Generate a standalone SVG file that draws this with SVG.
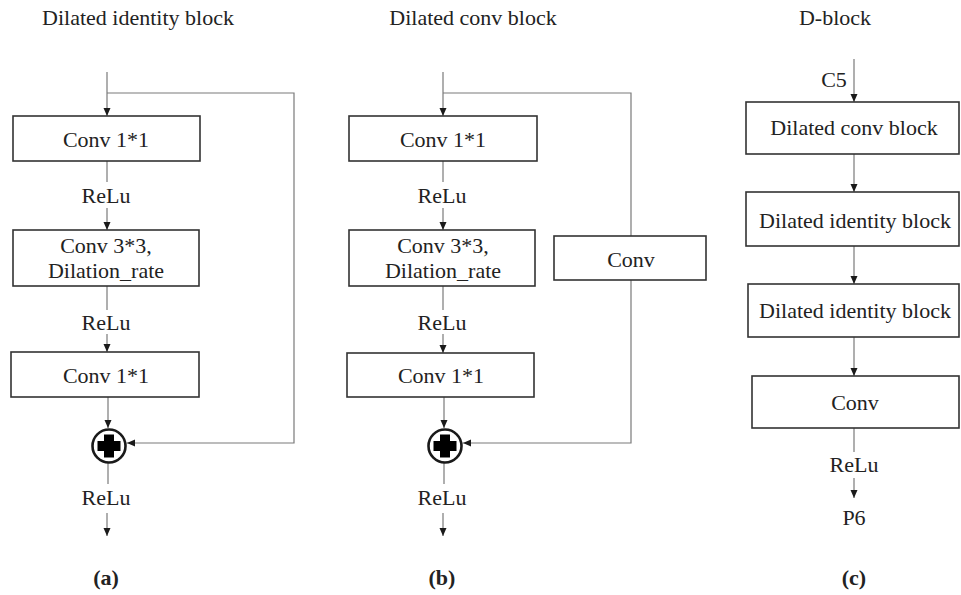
<svg xmlns="http://www.w3.org/2000/svg" width="961" height="595" viewBox="0 0 961 595">
  <defs>
    <marker id="arrow" viewBox="0 0 8 8" refX="8" refY="4" markerWidth="8" markerHeight="8" markerUnits="userSpaceOnUse" orient="auto">
      <path d="M0,0.5 L8,4 L0,7.5 Z" fill="#1a1a1a"/>
    </marker>
    <g id="adder">
      <circle r="16.5" fill="#ffffff" stroke="#1a1a1a" stroke-width="2.6"/>
      <path d="M-5,-11.5 h10 v6.5 h6.5 v10 h-6.5 v6.5 h-10 v-6.5 h-6.5 v-10 h6.5 Z" fill="#000000"/>
    </g>
  </defs>
  <style>
    text { font-family: "Liberation Serif", "Times New Roman", serif; font-size: 22px; fill: #222222; text-anchor: middle; }
    .title { font-size: 22px; }
    .cap { font-weight: bold; }
    .box { fill: #ffffff; stroke: #333333; stroke-width: 1.6; }
    .wire { fill: none; stroke: #7a7a7a; stroke-width: 1.2; }
    .arr { marker-end: url(#arrow); }
  </style>
  <rect width="961" height="595" fill="#ffffff"/>

  <!-- panel titles and captions -->
  <text class="title" x="138" y="25">Dilated identity block</text>
  <text class="title" x="473" y="25">Dilated conv block</text>
  <text class="title" x="835" y="25">D-block</text>
  <text class="cap" x="106" y="585">(a)</text>
  <text class="cap" x="442" y="585">(b)</text>
  <text class="cap" x="854" y="585">(c)</text>

  <!-- connectors -->
  <g id="connectors">
    <!-- (a) dilated identity block -->
    <path class="wire arr" d="M107,72 V116"/>
    <path class="wire arr" d="M107,93 H294 V443 H127"/>
    <path class="wire" d="M107,161 V182"/>
    <path class="wire arr" d="M107,208 V230"/>
    <path class="wire" d="M107,286 V310"/>
    <path class="wire arr" d="M107,334 V352"/>
    <path class="wire arr" d="M108,397 V428"/>
    <path class="wire" d="M108,463 V484"/>
    <path class="wire arr" d="M107,513 V536"/>

    <!-- (b) dilated conv block -->
    <path class="wire arr" d="M443,72 V116"/>
    <path class="wire" d="M443,93 H631 V236"/>
    <path class="wire arr" d="M631,280 V443 H463"/>
    <path class="wire" d="M443,161 V182"/>
    <path class="wire arr" d="M443,208 V230"/>
    <path class="wire" d="M443,286 V310"/>
    <path class="wire arr" d="M443,334 V353"/>
    <path class="wire arr" d="M444,397 V428"/>
    <path class="wire" d="M444,463 V484"/>
    <path class="wire arr" d="M443,513 V536"/>

    <!-- (c) D-block -->
    <path class="wire arr" d="M854,59 V102"/>
    <path class="wire arr" d="M854,154 V192"/>
    <path class="wire arr" d="M854,246 V284"/>
    <path class="wire arr" d="M854,337 V376"/>
    <path class="wire" d="M854,428 V452"/>
    <path class="wire arr" d="M854,478 V498"/>
  </g>

  <!-- inline labels -->
  <text x="106" y="203">ReLu</text>
  <text x="106" y="330">ReLu</text>
  <text x="106" y="505">ReLu</text>
  <text x="442" y="203">ReLu</text>
  <text x="442" y="330">ReLu</text>
  <text x="442" y="505">ReLu</text>
  <text x="834" y="87">C5</text>
  <text x="854" y="472">ReLu</text>
  <text x="854" y="525">P6</text>

  <!-- (a) nodes -->
  <g id="a-conv1">
    <rect class="box" x="13" y="116" width="187" height="45"/>
    <text x="106" y="147">Conv 1*1</text>
  </g>
  <g id="a-conv3">
    <rect class="box" x="13" y="230" width="186" height="56"/>
    <text x="106" y="253">Conv 3*3,</text>
    <text x="106" y="278">Dilation_rate</text>
  </g>
  <g id="a-conv1b">
    <rect class="box" x="11" y="352" width="188" height="45"/>
    <text x="106" y="383">Conv 1*1</text>
  </g>
  <g id="a-add">
    <use href="#adder" x="109" y="446"/>
  </g>

  <!-- (b) nodes -->
  <g id="b-conv1">
    <rect class="box" x="349" y="116" width="188" height="45"/>
    <text x="443" y="147">Conv 1*1</text>
  </g>
  <g id="b-conv3">
    <rect class="box" x="349" y="230" width="186" height="56"/>
    <text x="443" y="253">Conv 3*3,</text>
    <text x="443" y="278">Dilation_rate</text>
  </g>
  <g id="b-conv1b">
    <rect class="box" x="347" y="353" width="187" height="44"/>
    <text x="441" y="383">Conv 1*1</text>
  </g>
  <g id="b-shortcut">
    <rect class="box" x="554" y="236" width="152" height="44"/>
    <text x="631" y="267">Conv</text>
  </g>
  <g id="b-add">
    <use href="#adder" x="445" y="446"/>
  </g>

  <!-- (c) nodes -->
  <g id="c-dconv">
    <rect class="box" x="746" y="102" width="213" height="52"/>
    <text x="854" y="135">Dilated conv block</text>
  </g>
  <g id="c-did1">
    <rect class="box" x="746" y="192" width="213" height="54"/>
    <text x="855" y="228">Dilated identity block</text>
  </g>
  <g id="c-did2">
    <rect class="box" x="748" y="284" width="211" height="53"/>
    <text x="855" y="318">Dilated identity block</text>
  </g>
  <g id="c-conv">
    <rect class="box" x="752" y="376" width="207" height="52"/>
    <text x="855" y="410">Conv</text>
  </g>
</svg>
